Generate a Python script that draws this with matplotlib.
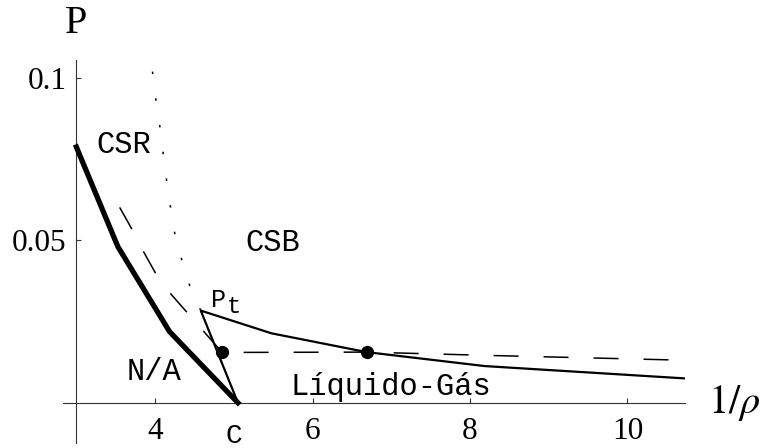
import matplotlib
matplotlib.use("Agg")
import matplotlib.pyplot as plt

plt.rcParams["lines.scale_dashes"] = False
plt.rcParams["mathtext.fontset"] = "stix"

SERIF = "Liberation Serif"
MONO = "Liberation Mono"

# Phase boundary curves (x = 1/rho, y = P)
thick_x = [3.0, 3.527, 4.184, 5.052]
thick_p = [0.0788, 0.0481, 0.0219, 0.0]

solid_x = [5.052, 4.58, 5.477, 6.687, 8.187, 10.73]
solid_p = [0.0, 0.0284, 0.0214, 0.0156, 0.0113, 0.0075]

dashed_x = [3.55, 3.705, 3.845, 4.006, 4.193, 4.396, 4.62, 4.78, 4.854, 6.687, 8.2, 10.73]
dashed_p = [0.0602, 0.0535, 0.0469, 0.0399, 0.0337, 0.0281, 0.0219, 0.0175, 0.0155,
            0.0156, 0.0146, 0.0131]

dotted_x = [4.58, 4.438, 4.337, 4.248, 4.193, 4.142, 4.099, 4.057, 4.006, 3.964, 3.94]
dotted_p = [0.0284, 0.0362, 0.0442, 0.0524, 0.0607, 0.0692, 0.0774, 0.0858, 0.0940,
            0.1026, 0.1080]

coex_x = [4.854, 6.687]
coex_p = [0.0155, 0.0156]

xticks = [4, 6, 8, 10]
xtick_labels = ["4", "6", "8", "10"]
yticks = [0.05, 0.1]
ytick_labels = ["0.05", "0.1"]

fig = plt.figure(figsize=(7.69, 4.48), dpi=100)
ax = fig.add_axes([0.0819, 0.01116, 0.8088, 0.8549])
ax.set_xlim(2.83, 10.73)
ax.set_ylim(-0.0124, 0.1056)

for side in ("top", "right"):
    ax.spines[side].set_visible(False)
ax.spines["left"].set_position(("data", 3.0))
ax.spines["bottom"].set_position(("data", 0.0))
for side in ("left", "bottom"):
    ax.spines[side].set_linewidth(0.8)
    ax.spines[side].set_color("#333333")

ax.set_xticks(xticks)
ax.set_xticklabels(xtick_labels, fontfamily=SERIF, fontsize=22.5)
ax.set_yticks(yticks)
ax.set_yticklabels(ytick_labels, fontfamily=SERIF, fontsize=22.5)
ax.tick_params(axis="x", direction="in", length=3.5, width=0.8, color="#333333", pad=10.5)
ax.tick_params(axis="y", direction="in", length=3.5, width=0.8, color="#333333", pad=7)

ax.plot(thick_x, thick_p, color="black", lw=3.8, solid_joinstyle="miter", zorder=3)
ax.plot(solid_x, solid_p, color="black", lw=1.6, solid_joinstyle="miter", zorder=3)
ax.plot(dashed_x, dashed_p, color="black", lw=1.1, linestyle=(0, (18, 18)), zorder=2)
ax.plot(dotted_x, dotted_p, color="black", lw=1.1, linestyle=(0, (1.8, 17.6)), zorder=2)
ax.plot(coex_x, coex_p, linestyle="none", marker="o", color="black", markersize=8.5, zorder=4)

# Region labels
ax.text(3.596, 0.0769, "CSR", fontfamily=MONO, fontsize=22, ha="center", va="baseline")
ax.text(5.497, 0.0468, "CSB", fontfamily=MONO, fontsize=22, ha="center", va="baseline")
ax.text(3.981, 0.0070, "N/A", fontfamily=MONO, fontsize=22, ha="center", va="baseline")
ax.text(6.99, 0.00237, "Líquido-Gás", fontfamily=MONO, fontsize=22, ha="center", va="baseline")
ax.text(4.803, 0.0296, "P", fontfamily=MONO, fontsize=18, ha="center", va="baseline")
ax.text(5.006, 0.0276, "t", fontfamily=MONO, fontsize=17, ha="center", va="baseline")
ax.text(4.995, -0.0125, "C", fontfamily=MONO, fontsize=20, ha="center", va="baseline",
        clip_on=False)

# Axis titles
ax.text(2.99, 0.1139, "P", fontfamily=SERIF, fontsize=29, ha="center", va="baseline",
        clip_on=False)
ax.text(11.36, -0.00327, r"$1/\rho$", fontsize=29, ha="center", va="baseline",
        clip_on=False)

fig.savefig("out.png", dpi=100)
